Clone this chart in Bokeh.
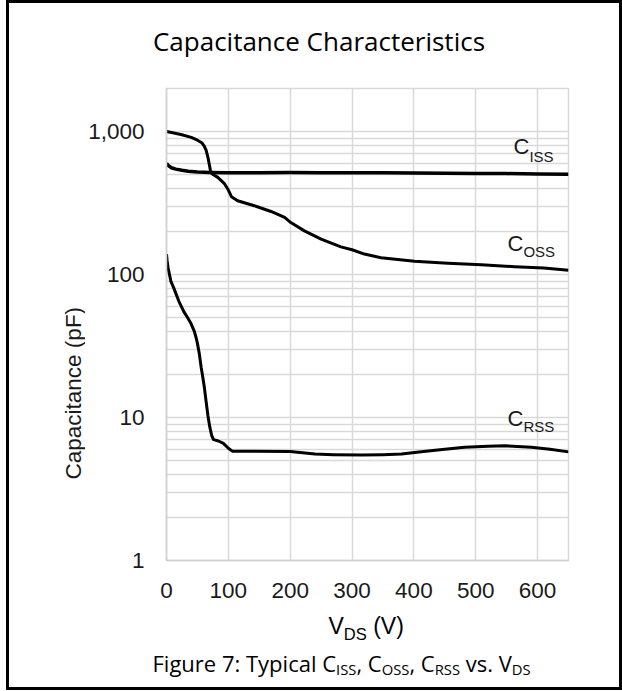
import math
import subprocess
from bokeh.plotting import figure
from bokeh.layouts import column, row
from bokeh.models import Range1d, FixedTicker, NumeralTickFormatter, Label
from bokeh.core.properties import value
from bokeh.embed import file_html
from bokeh.resources import INLINE

# ---------------- data ----------------
ciss_v = [0, 3, 8, 15, 25, 35, 50, 70, 100, 150, 200, 250, 300, 350, 400, 450, 500, 550, 600, 650]
ciss_c = [600, 578, 558, 546, 536, 528, 522, 518, 515, 515, 517, 516, 515, 514, 512, 510, 509, 508, 505, 503]

coss_v = [0, 10, 25, 40, 50, 57, 61, 64, 67, 69, 71, 74, 83, 94, 100, 105, 115, 142, 169, 191, 201,
          223, 250, 282, 300, 320, 347, 401, 455, 509, 563, 610, 650]
coss_c = [1000, 980, 950, 910, 870, 835, 790, 740, 660, 595, 535, 505, 478, 430, 390, 350, 328, 303,
          276, 251, 231, 202, 177, 156, 149, 139, 131, 124, 120, 117, 113.5, 111, 107]

crss_v = [0, 1, 2.5, 4, 7, 12, 20, 28, 34, 40, 45, 48, 50, 53, 56, 58, 61, 64, 67, 70, 73, 76, 84, 92,
          100, 107, 140, 200, 240, 270, 315, 350, 380, 412, 450, 482, 520, 547, 590, 620, 650]
crss_c = [139, 125, 112, 104, 90, 80, 65, 55, 50, 45, 40, 36, 33, 28, 22.5, 20, 16.5, 13, 10.3, 8.6,
          7.5, 7.0, 6.85, 6.6, 6.1, 5.8, 5.8, 5.78, 5.55, 5.5, 5.47, 5.5, 5.55, 5.77, 6.0, 6.2, 6.3,
          6.35, 6.2, 6.0, 5.75]

x_ticks = [0, 100, 200, 300, 400, 500, 600]
y_ticks = [1, 10, 100, 1000]
y_minor = [2, 3, 4, 5, 6, 7, 8, 9, 20, 30, 40, 50, 60, 70, 80, 90,
           200, 300, 400, 500, 600, 700, 800, 900, 2000]
x_max = 650
y_min, y_max = 1, 2000

title_text = "Capacitance Characteristics"
y_label_text = "Capacitance (pF)"

# ---------------- geometry (page pixels) ----------------
X0, Y0 = 9, 3                 # content origin (6px margin + 3px border, 3px border)
CW = 610                      # content width
TOP_H = 75
MAIN_H = 530
BOT_H = 79
LEFT_W = 76
FL, FR, FT, FB = 166, 568, 88, 560   # plot-area edges
BASE_SHIFT = 0.40             # rendered baseline sits this many em below the anchor
ROT_SHIFT = 35                # rotated text is drawn this far ahead of its anchor

ARIAL = "Liberation Sans"
MYR = "Open Sans"

# ---------------- text width helper ----------------
_font_cache = {}

def _pil_font(family):
    if family in _font_cache:
        return _font_cache[family]
    f = None
    try:
        from PIL import ImageFont
        path = subprocess.run(["fc-match", family, "--format=%{file}"], capture_output=True,
                              text=True, timeout=5).stdout.strip()
        if path:
            f = ImageFont.truetype(path, 1000)
    except Exception:
        f = None
    _font_cache[family] = f
    return f

_ARIAL_W = {' ': .278, '(': .333, ')': .333, 'C': .722, 'D': .722, 'I': .278, 'O': .778,
            'R': .722, 'S': .667, 'V': .667, ',': .278}
_OPEN_W = {' ': .26, ',': .245, '.': .266, ':': .266, '7': .572, 'C': .633, 'D': .728, 'F': .537,
           'I': .295, 'O': .781, 'R': .626, 'S': .536, 'T': .549, 'V': .609, 'a': .556, 'c': .476,
           'e': .561, 'g': .548, 'i': .253, 'l': .253, 'p': .613, 'r': .408, 's': .477, 'u': .613,
           'v': .516, 'y': .518}

def tw(txt, family, size):
    f = _pil_font(family)
    if f is not None:
        try:
            return f.getlength(txt) / 1000.0 * size
        except Exception:
            pass
    table = _ARIAL_W if family == ARIAL else _OPEN_W
    return sum(table.get(ch, 0.55) for ch in txt) * size

def layout_rich(parts, px, family):
    """parts: (text, size, baseline_shift) -> list of (stripped text, x, size, shift)"""
    out = []
    x = px
    for txt, size, shift in parts:
        lead = len(txt) - len(txt.lstrip(" "))
        trail = len(txt) - len(txt.rstrip(" "))
        core = txt.strip(" ")
        x += lead * tw(" ", family, size)
        out.append((core, x, size, shift))
        x += tw(core, family, size) + trail * tw(" ", family, size)
    return out

# ---------------- text-only panels ----------------
def text_fig(w, h):
    f = figure(width=w, height=h, x_range=Range1d(0, w), y_range=Range1d(0, h),
               output_backend="svg", toolbar_location=None,
               x_axis_location=None, y_axis_location=None, min_border=0)
    f.outline_line_color = None
    f.background_fill_color = "white"
    f.border_fill_color = "white"
    f.xgrid.visible = False
    f.ygrid.visible = False
    return f

class Panel:
    def __init__(self, fig, left, top, h):
        self.fig, self.left, self.top, self.h = fig, left, top, h

    def put(self, txt, px, base_y, family, size, align="left", angle=0.0, color="black"):
        ay = base_y - BASE_SHIFT * size
        self.fig.text(x=[px - self.left], y=[self.h - (ay - self.top)], text=[txt],
                      text_font=value(family), text_font_size=value(f"{size}px"),
                      text_align=align, text_baseline="alphabetic", angle=angle,
                      text_color=color)

    def rich(self, parts, px, base_y, family):
        for core, x, size, shift in layout_rich(parts, px, family):
            self.put(core, x, base_y + shift, family, size)

top_fig = text_fig(CW, TOP_H)
top = Panel(top_fig, X0, Y0, TOP_H)
top.put(title_text, 318.5, 50.5, MYR, 26, align="center")

left_fig = text_fig(LEFT_W, MAIN_H)
left = Panel(left_fig, X0, Y0 + TOP_H, MAIN_H)
# rotated label (reads bottom to top), starting at page y ~482, baseline near x 82
left.fig.text(x=[82 - BASE_SHIFT * 22.5 - left.left],
              y=[left.h - (482 + ROT_SHIFT - left.top)],
              text=[y_label_text], text_font=value(ARIAL), text_font_size=value("22.5px"),
              text_align="left", text_baseline="alphabetic", angle=math.pi / 2,
              text_color="#1a1a1a")

bot_fig = text_fig(CW, BOT_H)
bot = Panel(bot_fig, X0, Y0 + TOP_H + MAIN_H, BOT_H)
bot.rich([("V", 23, 0), ("DS", 16.5, 5), (" (V)", 23, 0)], 328, 635, ARIAL)
M, S, SH = 22.0, 14.8, 3
bot.rich([("Figure 7: Typical C", M, 0), ("ISS", S, SH), (", C", M, 0), ("OSS", S, SH),
          (", C", M, 0), ("RSS", S, SH), (" vs. V", M, 0), ("DS", S, SH)], 152, 671, MYR)

# ---------------- main chart ----------------
main_left = X0 + LEFT_W
main_w = CW - LEFT_W
main_top = Y0 + TOP_H
p = figure(width=main_w, height=MAIN_H, x_range=Range1d(0, x_max), y_range=Range1d(y_min, y_max),
           y_axis_type="log", output_backend="svg", toolbar_location=None,
           min_border_left=FL - main_left, min_border_right=(main_left + main_w) - FR,
           min_border_top=FT - main_top, min_border_bottom=(main_top + MAIN_H) - FB)
p.background_fill_color = "white"
p.border_fill_color = "white"
p.outline_line_color = "#d9d9d9"
p.outline_line_width = 1.5

xt = FixedTicker(ticks=x_ticks)
yt = FixedTicker(ticks=y_ticks, minor_ticks=y_minor)
p.xaxis.ticker = xt
p.yaxis.ticker = yt
p.xgrid.ticker = xt
p.ygrid.ticker = yt
p.yaxis.formatter = NumeralTickFormatter(format="0,0")

for ax in p.axis:
    ax.major_tick_line_color = None
    ax.minor_tick_line_color = None
    ax.major_tick_out = 0
    ax.major_tick_in = 0
    ax.minor_tick_out = 0
    ax.minor_tick_in = 0
    ax.axis_line_color = "#d0d0d0"
    ax.axis_line_width = 1.5
    ax.major_label_text_font = ARIAL
    ax.major_label_text_font_size = "22.5px"
    ax.major_label_text_color = "#1a1a1a"
p.xaxis.major_label_standoff = 22
p.yaxis.major_label_standoff = 22

p.xgrid.grid_line_color = "#d9d9d9"
p.xgrid.grid_line_width = 1.5
p.ygrid.grid_line_color = "#d9d9d9"
p.ygrid.grid_line_width = 1.5
p.ygrid.minor_grid_line_color = "#d9d9d9"
p.ygrid.minor_grid_line_width = 1.5

for vv, cc, lw in ((ciss_v, ciss_c, 3.5), (coss_v, coss_c, 3), (crss_v, crss_c, 3)):
    p.line(vv, cc, line_width=lw, line_color="black", line_join="round")

LOGMAX = math.log10(y_max)

def dx(px):
    return (px - FL) / (FR - FL) * x_max

def dy(py):
    return 10 ** (LOGMAX - (py - FT) / (FB - FT) * LOGMAX)

def mrich(parts, px, base_y):
    for core, x, size, shift in layout_rich(parts, px, ARIAL):
        ay = base_y + shift - BASE_SHIFT * size
        p.add_layout(Label(x=dx(x), y=dy(ay), text=core, text_font=ARIAL,
                           text_font_size=f"{size}px", text_align="left",
                           text_baseline="alphabetic", text_color="#1a1a1a"))

mrich([("C", 22, 0), ("ISS", 15, 7)], 513, 155)
mrich([("C", 22, 0), ("OSS", 15, 5)], 507, 252)
mrich([("C", 22, 0), ("RSS", 15, 5)], 507, 427)

lay = column(top_fig, row(left_fig, p), bot_fig)
lay.styles = {"border": "3px solid black", "box-sizing": "content-box", "margin-left": "6px"}

open("out.html", "w").write(file_html(lay, INLINE))
